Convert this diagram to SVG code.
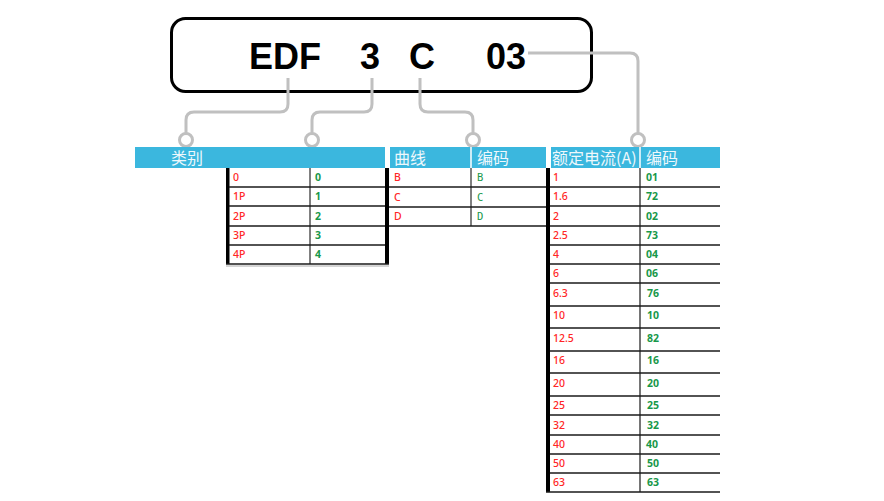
<svg xmlns="http://www.w3.org/2000/svg" width="884" height="501" viewBox="0 0 884 501">
<style>
.big{font-family:"Liberation Sans",Arial,sans-serif;font-weight:bold;font-size:36px;fill:#000}
.hd{fill:#3bb7de}
.ht{font-family:"Noto Sans CJK SC","Noto Sans",sans-serif;font-size:16px;fill:#eef8fc}
.r{font-family:"Noto Sans","Open Sans",sans-serif;font-size:10.5px;font-weight:500;fill:#ff2626}
.g{font-family:"Noto Sans","Open Sans",sans-serif;font-size:10.5px;font-weight:700;fill:#18984a}
.gm{font-family:"DejaVu Sans Mono","Liberation Mono",monospace;font-size:10.5px;fill:#18984a}
.row{stroke:#1a1a1a;stroke-width:1.5}
.bar{fill:#000}
.con{fill:none;stroke:#c0c0c0;stroke-width:3}
.dot{fill:#fff;stroke:#c0c0c0;stroke-width:3}
</style>
<rect width="884" height="501" fill="#fff"/>
<g id="code-box">
<rect x="171.5" y="18.5" width="420" height="73" rx="14" fill="#fff" stroke="#000" stroke-width="3"/>
<text class="big" x="249" y="69">EDF</text>
<text class="big" x="360" y="69">3</text>
<text class="big" x="409" y="69">C</text>
<text class="big" x="486" y="69">03</text>
</g>
<g id="connectors">
<path class="con" d="M288 78 V104 Q288 112 280 112 H194 Q186 112 186 120 V133"/>
<path class="con" d="M372 78 V104 Q372 112 364 112 H320 Q312 112 312 120 V133"/>
<path class="con" d="M420 78 V104 Q420 112 428 112 H465 Q473 112 473 120 V133"/>
<path class="con" d="M528 53 H630 Q638 53 638 61 V133"/>
<circle class="dot" cx="186" cy="140" r="6.5"/>
<circle class="dot" cx="312" cy="140" r="6.5"/>
<circle class="dot" cx="473" cy="140" r="6.5"/>
<circle class="dot" cx="638" cy="140" r="6.5"/>
</g>
<g id="table-type">
<rect class="hd" x="135" y="147" width="250" height="21"/>
<text class="ht" x="171" y="164">类别</text>
<rect class="bar" x="226" y="168" width="3.5" height="96"/>
<rect class="bar" x="385" y="168" width="4" height="96"/>
<line x1="310" y1="168" x2="310" y2="264" stroke="#808080" stroke-width="2"/>
<line class="row" x1="229" y1="187" x2="385" y2="187"/>
<line class="row" x1="229" y1="206" x2="385" y2="206"/>
<line class="row" x1="229" y1="226" x2="385" y2="226"/>
<line class="row" x1="229" y1="245" x2="385" y2="245"/>
<line class="row" x1="226" y1="264" x2="389" y2="264"/>
<line x1="226" y1="266" x2="389" y2="266" stroke="#aaa" stroke-width="1"/>
<text class="r" x="233" y="181">0</text><text class="g" x="315" y="181">0</text>
<text class="r" x="233" y="200">1P</text><text class="g" x="315" y="200">1</text>
<text class="r" x="233" y="219.5">2P</text><text class="g" x="315" y="219.5">2</text>
<text class="r" x="233" y="239">3P</text><text class="g" x="315" y="239">3</text>
<text class="r" x="233" y="258">4P</text><text class="g" x="315" y="258">4</text>
</g>
<g id="table-curve">
<rect class="hd" x="390" y="147" width="156" height="21"/>
<line x1="471" y1="147" x2="471" y2="168" stroke="#fff" stroke-width="1.5"/>
<text class="ht" x="394" y="164">曲线</text>
<text class="ht" x="477" y="164">编码</text>
<line x1="471" y1="168" x2="471" y2="226" stroke="#808080" stroke-width="2"/>
<line class="row" x1="389" y1="187" x2="546" y2="187"/>
<line class="row" x1="389" y1="207" x2="546" y2="207"/>
<line class="row" x1="389" y1="226" x2="546" y2="226"/>
<text class="r" x="394" y="181">B</text><text class="gm" x="477" y="181">B</text>
<text class="r" x="394" y="200.5">C</text><text class="gm" x="477" y="200.5">C</text>
<text class="r" x="394" y="220">D</text><text class="gm" x="477" y="220">D</text>
</g>
<g id="table-current">
<rect class="hd" x="551" y="147" width="169" height="21"/>
<line x1="640" y1="147" x2="640" y2="168" stroke="#fff" stroke-width="1.5"/>
<text class="ht" x="552" y="164">额定电流(A)</text>
<text class="ht" x="646" y="164">编码</text>
<rect class="bar" x="546" y="168" width="4" height="324"/>
<line x1="640" y1="168" x2="640" y2="492" stroke="#1a1a1a" stroke-width="1.2"/>
<line class="row" x1="550" y1="187" x2="720" y2="187"/>
<line class="row" x1="550" y1="206" x2="720" y2="206"/>
<line class="row" x1="550" y1="226" x2="720" y2="226"/>
<line class="row" x1="550" y1="245" x2="720" y2="245"/>
<line class="row" x1="550" y1="264" x2="720" y2="264"/>
<line class="row" x1="550" y1="283" x2="720" y2="283"/>
<line class="row" x1="550" y1="306" x2="720" y2="306"/>
<line class="row" x1="550" y1="328" x2="720" y2="328"/>
<line class="row" x1="550" y1="351" x2="720" y2="351"/>
<line class="row" x1="550" y1="373" x2="720" y2="373"/>
<line class="row" x1="550" y1="396" x2="720" y2="396"/>
<line class="row" x1="550" y1="415" x2="720" y2="415"/>
<line class="row" x1="550" y1="435" x2="720" y2="435"/>
<line class="row" x1="550" y1="454" x2="720" y2="454"/>
<line class="row" x1="550" y1="473" x2="720" y2="473"/>
<line class="row" x1="546" y1="492" x2="720" y2="492"/>
<text class="r" x="553" y="181">1</text><text class="g" x="646" y="181">01</text>
<text class="r" x="553" y="200">1.6</text><text class="g" x="646" y="200">72</text>
<text class="r" x="553" y="219.5">2</text><text class="g" x="646" y="219.5">02</text>
<text class="r" x="553" y="239">2.5</text><text class="g" x="646" y="239">73</text>
<text class="r" x="553" y="258">4</text><text class="g" x="646" y="258">04</text>
<text class="r" x="553" y="277">6</text><text class="g" x="646" y="277">06</text>
<text class="r" x="553" y="297">6.3</text><text class="g" x="647" y="297">76</text>
<text class="r" x="553" y="319">10</text><text class="g" x="647" y="319">10</text>
<text class="r" x="553" y="342">12.5</text><text class="g" x="647" y="342">82</text>
<text class="r" x="553" y="363.5">16</text><text class="g" x="647" y="363.5">16</text>
<text class="r" x="553" y="386.5">20</text><text class="g" x="647" y="386.5">20</text>
<text class="r" x="553" y="409">25</text><text class="g" x="647" y="409">25</text>
<text class="r" x="553" y="428.5">32</text><text class="g" x="647" y="428.5">32</text>
<text class="r" x="553" y="448">40</text><text class="g" x="646" y="448">40</text>
<text class="r" x="553" y="467">50</text><text class="g" x="647" y="467">50</text>
<text class="r" x="553" y="486">63</text><text class="g" x="647" y="486">63</text>
</g>
</svg>
